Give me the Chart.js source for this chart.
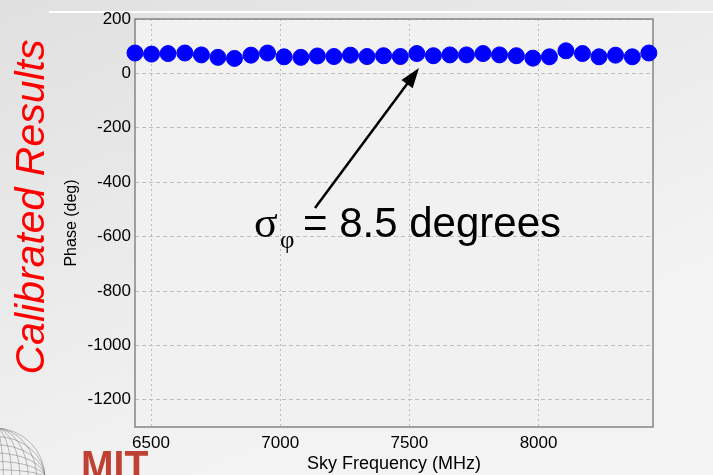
<!DOCTYPE html>
<html>
<head>
<meta charset="utf-8">
<title>Calibrated Results</title>
<script src="https://cdn.jsdelivr.net/npm/chart.js@4.4.1/dist/chart.umd.min.js"></script>
<style>
  html, body { margin: 0; padding: 0; background: #ececec; }
  #phaseChart { display: block; }
</style>
</head>
<body>
<canvas id="phaseChart" width="713" height="475"></canvas>
<script>
// sky frequency of each channel (MHz) and calibrated phase (deg)
const freqs = [6438, 6502, 6566, 6631, 6695, 6759, 6823, 6887, 6951, 7015, 7080, 7144, 7208, 7272, 7336, 7400,
               7465, 7529, 7593, 7657, 7721, 7785, 7849, 7914, 7978, 8042, 8106, 8170, 8234, 8298, 8363, 8427];
const phase = [75, 71, 73, 75, 68, 59, 55, 67, 75, 61, 59, 64, 62, 67, 62, 65,
               62, 73, 65, 68, 68, 73, 68, 65, 56, 61, 83, 73, 61, 67, 61, 75];

const xTicks = [6500, 7000, 7500, 8000];
const yTicks = [-1200, -1000, -800, -600, -400, -200, 0, 200];

// slide background, white rule, plot frame
const slideBg = {
  id: "slideBg",
  beforeDraw(chart) {
    const ctx = chart.ctx;
    const g = ctx.createLinearGradient(0, 0, 200, 475);
    g.addColorStop(0, "#e0e0e0");
    g.addColorStop(1, "#f3f3f3");
    ctx.save();
    ctx.fillStyle = g;
    ctx.fillRect(0, 0, chart.width, chart.height);
    const a = chart.chartArea;
    ctx.fillStyle = "#f1f1f1";
    ctx.fillRect(a.left, a.top, a.right - a.left, a.bottom - a.top);
    ctx.fillStyle = "#ffffff";
    ctx.fillRect(49, 11, chart.width - 49, 2);
    ctx.restore();
  },
  beforeDatasetsDraw(chart) {
    const a = chart.chartArea;
    const ctx = chart.ctx;
    ctx.save();
    ctx.strokeStyle = "#858585";
    ctx.lineWidth = 1.5;
    ctx.strokeRect(a.left, a.top, a.right - a.left, a.bottom - a.top);
    ctx.restore();
  }
};

// side title, sigma annotation with arrow, MIT logo
const decorations = {
  id: "decorations",
  afterDraw(chart) {
    const ctx = chart.ctx;
    ctx.save();

    // rotated side title
    ctx.save();
    ctx.translate(44, 207);
    ctx.rotate(-Math.PI / 2);
    ctx.fillStyle = "#ff0000";
    ctx.font = "italic 41px Arial";
    ctx.textAlign = "center";
    ctx.textBaseline = "alphabetic";
    ctx.fillText("Calibrated Results", 0, 0);
    ctx.restore();

    // arrow pointing to the points
    const x0 = 315, y0 = 208, x1 = 419, y1 = 68;
    const ang = Math.atan2(y1 - y0, x1 - x0);
    ctx.strokeStyle = "#000";
    ctx.fillStyle = "#000";
    ctx.lineWidth = 2.5;
    ctx.beginPath();
    ctx.moveTo(x0, y0);
    ctx.lineTo(x1 - 16 * Math.cos(ang), y1 - 16 * Math.sin(ang));
    ctx.stroke();
    ctx.beginPath();
    ctx.moveTo(x1, y1);
    ctx.lineTo(x1 - 20 * Math.cos(ang) + 7 * Math.sin(ang), y1 - 20 * Math.sin(ang) - 7 * Math.cos(ang));
    ctx.lineTo(x1 - 20 * Math.cos(ang) - 7 * Math.sin(ang), y1 - 20 * Math.sin(ang) + 7 * Math.cos(ang));
    ctx.closePath();
    ctx.fill();

    // sigma_phi = 8.5 degrees
    ctx.textAlign = "left";
    ctx.textBaseline = "alphabetic";
    ctx.font = "44px 'Liberation Serif', serif";
    ctx.fillText("σ", 254, 237);
    ctx.font = "25px 'Liberation Serif', serif";
    ctx.fillText("φ", 280, 248);
    ctx.font = "42px Arial";
    ctx.fillText("= 8.5 degrees", 303, 237);

    // wireframe globe in the corner
    ctx.strokeStyle = "rgba(120,120,120,0.7)";
    ctx.lineWidth = 0.7;
    const cx = -5, cy = 478, r = 50;
    ctx.beginPath();
    ctx.arc(cx, cy, r, 0, Math.PI * 2);
    ctx.stroke();
    for (let k = 1; k < 6; k++) {
      ctx.beginPath();
      ctx.ellipse(cx, cy, r * k / 6, r, 0, 0, Math.PI * 2);
      ctx.stroke();
      ctx.beginPath();
      ctx.ellipse(cx, cy, r, r * k / 6, 0, 0, Math.PI * 2);
      ctx.stroke();
    }

    // MIT lettering
    ctx.save();
    ctx.fillStyle = "rgba(185,45,30,0.9)";
    ctx.font = "bold 42px Arial";
    ctx.translate(81, 480);
    ctx.scale(0.93, 1);
    ctx.fillText("MIT", 0, 0);
    ctx.restore();

    ctx.restore();
  }
};

new Chart(document.getElementById("phaseChart"), {
  type: "scatter",
  data: {
    datasets: [{
      label: "Phase",
      data: freqs.map((f, i) => ({ x: f, y: phase[i] })),
      backgroundColor: "#0000ff",
      borderColor: "#0000ff",
      borderWidth: 1,
      pointRadius: 8,
      pointHoverRadius: 8,
      clip: false
    }]
  },
  options: {
    responsive: false,
    devicePixelRatio: 1,
    animation: false,
    layout: { padding: { top: 19, right: 60, left: 0, bottom: 0 } },
    plugins: { legend: { display: false }, tooltip: { enabled: false } },
    scales: {
      x: {
        type: "linear",
        min: 6438,
        max: 8443,
        afterFit(scale) { scale.height = 48; },
        afterBuildTicks(scale) { scale.ticks = xTicks.map(v => ({ value: v })); },
        grid: { color: "#bdbdbd", drawTicks: false },
        border: { display: false, dash: [2, 3] },
        ticks: {
          color: "#000",
          padding: 6,
          maxRotation: 0,
          font: { family: "Arial", size: 17 },
          callback: v => String(v)
        },
        title: {
          display: true,
          text: "Sky Frequency (MHz)",
          color: "#000",
          font: { family: "Arial", size: 18 },
          padding: { top: 0, bottom: 0 }
        }
      },
      y: {
        min: -1300,
        max: 200,
        afterFit(scale) { scale.width = 135; },
        afterBuildTicks(scale) { scale.ticks = yTicks.map(v => ({ value: v })); },
        grid: { color: "#bdbdbd", drawTicks: false },
        border: { display: false, dash: [4, 3] },
        ticks: {
          color: "#000",
          padding: 4,
          font: { family: "Arial", size: 17 },
          callback: v => String(v)
        },
        title: {
          display: true,
          text: "Phase (deg)",
          color: "#000",
          font: { family: "Arial", size: 16 },
          padding: { top: 62, bottom: 0 }
        }
      }
    }
  },
  plugins: [slideBg, decorations]
});
</script>
</body>
</html>
